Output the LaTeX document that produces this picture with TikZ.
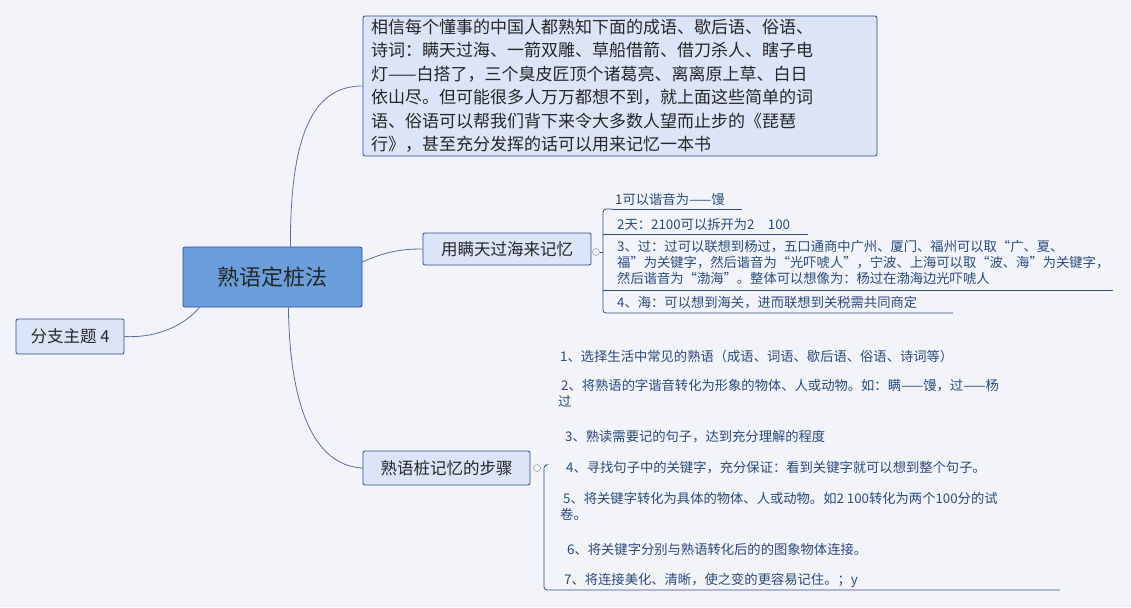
\documentclass[tikz,border=0pt]{standalone}
\usepackage{fontspec}
\setmainfont{Noto Sans CJK SC}
\begin{document}
\begin{tikzpicture}[x=1pt,y=-1pt,
  bx/.style={draw=bord,fill=boxf,rounded corners=2pt,inner sep=0pt,line width=0.8pt},
  tx/.style={anchor=west,inner sep=0pt,text=txtc,font=\fontsize{13.3}{16}\selectfont,align=left},
  ln/.style={draw=bord,line width=0.8pt},
  cn/.style={draw=bord!80,line width=0.8pt}]
\definecolor{bg}{HTML}{F3F4FA}
\definecolor{bord}{HTML}{2E4C86}
\definecolor{boxf}{HTML}{DCE4F8}
\definecolor{txtc}{HTML}{2A4A7A}
\definecolor{cen}{HTML}{6A9FDB}
\fill[bg] (0,0) rectangle (1131,607);
\useasboundingbox (0,0) rectangle (1131,607);
% central
\node[bx,fill=cen,minimum width=179pt,minimum height=60pt,font=\fontsize{22}{26}\selectfont,text=black!85] (c) at (272.5,277) {熟语定桩法};
% top box
\node[bx,minimum width=514pt,minimum height=140pt] (t) at (620,86) {};
\node[tx,anchor=north west,font=\fontsize{17}{23.4}\selectfont,text=black!85] (tt) at (371,19) {相信每个懂事的中国人都熟知下面的成语、歇后语、俗语、\\诗词：瞒天过海、一箭双雕、草船借箭、借刀杀人、瞎子电\\灯——白搭了，三个臭皮匠顶个诸葛亮、离离原上草、白日\\依山尽。但可能很多人万万都想不到，就上面这些简单的词\\语、俗语可以帮我们背下来令大多数人望而止步的《琵琶\\行》，甚至充分发挥的话可以用来记忆一本书};
% branches
\node[bx,minimum width=168pt,minimum height=32pt,font=\fontsize{16.5}{19}\selectfont,text=black!85] (b1) at (507,249) {用瞒天过海来记忆};
\node[bx,minimum width=167pt,minimum height=34pt,font=\fontsize{16.5}{19}\selectfont,text=black!85] (b2) at (446.5,468) {熟语桩记忆的步骤};
\node[bx,minimum width=108pt,minimum height=35pt,font=\fontsize{16.5}{19}\selectfont,text=black!85] (b3) at (70,336.5) {分支主题 4};
% connectors
\draw[cn] (c.north east)++(-72,0) .. controls (290,120) and (320,86) .. (t.west);
\draw[cn] (c.east)++(0,-15) .. controls (385,252) and (400,249) .. (b1.west);
\draw[cn] (c.south east)++(-74,0) .. controls (290,420) and (320,466) .. (b2.west);
\draw[cn] (c.south west)++(17,0) .. controls (180,330) and (150,338) .. (b3.east);
% sub-branch 1
\draw[bord!70,fill=white] (596,252) circle (3.5pt);
\draw[ln] (599.5,252) -- (603,252);
\draw[ln,rounded corners=3pt] (612,209) -- (603,209) -- (603,313) -- (953,313);
\draw[ln] (612,209) -- (742,209);
\draw[ln] (603,234) -- (808,234);
\draw[ln] (603,290) -- (1113,290);
\node[tx] (i1) at (615,199) {1可以谐音为——馒};
\node[tx] (i2) at (617,224) {2天：2100可以拆开为2\quad 100};
\node[tx,anchor=north west] (i3) at (617,240) {3、过：过可以联想到杨过，五口通商中广州、厦门、福州可以取“广、夏、\\福”为关键字，然后谐音为“光吓唬人”，宁波、上海可以取“波、海”为关键字，\\然后谐音为“渤海”。整体可以想像为：杨过在渤海边光吓唬人};
\node[tx] (i4) at (617,303) {4、海：可以想到海关，进而联想到关税需共同商定};
% sub-branch 2
\draw[bord!70,fill=white] (537,468) circle (3.5pt);
\draw[ln,rounded corners=3pt] (545,465) -- (544,465) -- (544,590) -- (1060,590);
\node[tx] (j1) at (560,356) {1、选择生活中常见的熟语（成语、词语、歇后语、俗语、诗词等）};
\node[tx,anchor=north west] (j2) at (558,379) {\ 2、将熟语的字谐音转化为形象的物体、人或动物。如：瞒——馒，过——杨\\过};
\node[tx] (j3) at (565,437) {3、熟读需要记的句子，达到充分理解的程度};
\node[tx] (j4) at (566,468) {4、寻找句子中的关键字，充分保证：看到关键字就可以想到整个句子。};
\node[tx,anchor=north west] (j5) at (560,492) {\ 5、将关键字转化为具体的物体、人或动物。如2 100转化为两个100分的试\\卷。};
\node[tx] (j6) at (567,549) {6、将关键字分别与熟语转化后的的图象物体连接。};
\node[tx] (j7) at (564,580) {7、将连接美化、清晰，使之变的更容易记住。；y};
\end{tikzpicture}
\end{document}
